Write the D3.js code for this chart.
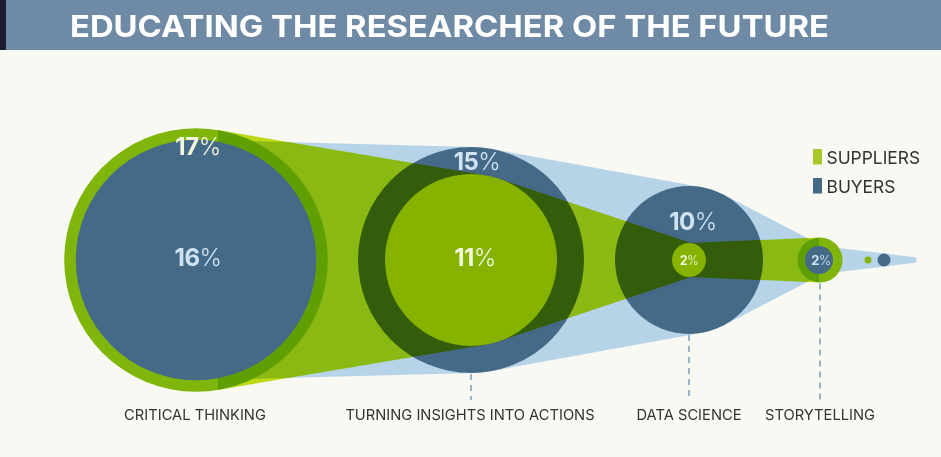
<!DOCTYPE html>
<html><head><meta charset="utf-8">
<script src="https://cdnjs.cloudflare.com/ajax/libs/d3/7.8.5/d3.min.js"></script>
<style>
html,body{margin:0;padding:0;background:#f9f9f4;overflow:hidden}
svg{display:block;isolation:isolate}
text{font-family:Inter,Lato,sans-serif}
</style></head><body>
<svg id="c" width="941" height="457"></svg>
<script>
const title = "EDUCATING THE RESEARCHER OF THE FUTURE";
const categories = ["CRITICAL THINKING","TURNING INSIGHTS INTO ACTIONS","DATA SCIENCE","STORYTELLING"];
const stops = [...categories,"TRAILING DOT","TAIL"];
const suppliers = [17.1,11.16,2.2,2.92,0.45];
const buyers = [15.6,14.66,9.6,1.82,0.84,0.32];
const supplierLabels = ["17","11","2",null];
const buyerLabels = ["16","15","10","2"];
const seriesNames = ["SUPPLIERS","BUYERS"];

const svg = d3.select("#c");
const xSup = d3.scaleOrdinal().domain(stops).range([196,471,689,820,868]);
const xBuy = d3.scaleOrdinal().domain(stops).range([196,471,689,819,884,916]);
const xTick = d3.scaleOrdinal().domain(categories).range([195,470,689,820]);
const r = d3.scaleLinear().domain([0,17]).range([0,131]);
const cy = 260;
const C = {bg:"#f9f9f4",head:"#6e8aa4",dark:"#1c1c30",light:"#b7d3e8",blue:"#456a88",
  lime:"#c0e014",green:"#80b50c",green2:"#85b300",legend:"#a9c92a",txt:"#333"};

svg.append("rect").attr("width",941).attr("height",457).attr("fill",C.bg);
svg.append("rect").attr("width",941).attr("height",50).attr("fill",C.head);
svg.append("rect").attr("width",6).attr("height",50).attr("fill",C.dark);
svg.append("text").attr("x",70).attr("y",37).attr("fill","#fff").attr("font-size",30.5)
  .attr("font-weight",700).attr("textLength",759).attr("lengthAdjust","spacingAndGlyphs").text(title);

function funnel(vals,xs){
  const cs = vals.map((v,i)=>({x:xs(stops[i]),r:r(v)}));
  const top=[],bot=[];
  d3.pairs(cs).forEach(([a,b])=>{
    const s=(a.r-b.r)/(b.x-a.x), c=Math.sqrt(1-s*s);
    top.push([a.x+a.r*s,cy-a.r*c],[b.x+b.r*s,cy-b.r*c]);
    bot.push([a.x+a.r*s,cy+a.r*c],[b.x+b.r*s,cy+b.r*c]);
  });
  return d3.line()(top.concat(bot.reverse()))+"Z";
}
const circle=(x,rad,fill)=>svg.append("circle").attr("cx",x).attr("cy",cy).attr("r",rad).attr("fill",fill);

svg.append("path").attr("d",funnel(buyers,xBuy)).attr("fill",C.light);
[0,3].forEach(i=>circle(xSup(stops[i]),r(suppliers[i]),C.green));
[1,2].forEach(i=>circle(xBuy(stops[i]),r(buyers[i]),C.blue));
svg.append("path").attr("d",funnel(suppliers.slice(0,4),xSup)).attr("fill",C.lime)
  .style("mix-blend-mode","multiply");
[1,2].forEach(i=>circle(xSup(stops[i]),r(suppliers[i]),C.green2));
[0,3,4].forEach(i=>circle(xBuy(stops[i]),r(buyers[i]),C.blue));
circle(xSup(stops[4]),r(suppliers[4]),C.green2);

// dashed leaders
[1,2,3].forEach(i=>{
  const rad = i===3 ? r(suppliers[3]) : r(buyers[i]);
  svg.append("line").attr("x1",xSup(stops[i])).attr("x2",xSup(stops[i]))
    .attr("y1",cy+rad+1).attr("y2",400)
    .attr("stroke","#5f87a5").attr("stroke-width",1.2).attr("stroke-dasharray","6 5");
});
// category labels
svg.selectAll(".cat").data(categories).join("text").attr("class","cat")
  .attr("x",d=>xTick(d)).attr("y",420).attr("text-anchor","middle")
  .attr("font-size",14.7).attr("font-weight",400).attr("fill",C.txt).text(d=>d);

// value labels
function pct(x,y,val,size,fill){
  const t=svg.append("text").attr("x",x).attr("y",y).attr("text-anchor","middle")
    .attr("font-size",size).attr("fill",fill).attr("letter-spacing",-0.5);
  t.append("tspan").attr("font-weight",700).text(val);
  t.append("tspan").attr("font-weight",300).text("%");
}
const cream="#f2f6dc", sky="#cfe3f3";
pct(xSup(stops[0])+2,155,supplierLabels[0],24,cream);
pct(xBuy(stops[0])+2,266,buyerLabels[0],24,sky);
pct(xBuy(stops[1])+6,170,buyerLabels[1],24,sky);
pct(xSup(stops[1])+4,266,supplierLabels[1],24,cream);
pct(xBuy(stops[2])+4,230,buyerLabels[2],24,sky);
pct(xSup(stops[2]),265,supplierLabels[2],12.5,cream);
pct(xBuy(stops[3])+2,265,buyerLabels[3],13,sky);

// legend
const ly=d3.scaleOrdinal().domain(seriesNames).range([164,193]);
svg.selectAll(".lr").data(seriesNames).join("rect").attr("class","lr")
  .attr("x",813).attr("y",d=>ly(d)-15).attr("width",9).attr("height",15.5)
  .attr("fill",(d,i)=>i?C.blue:C.legend);
svg.selectAll(".lt").data(seriesNames).join("text").attr("class","lt")
  .attr("x",826.5).attr("y",d=>ly(d)).attr("font-size",17.4).attr("fill",C.txt).text(d=>d);
</script></body></html>
